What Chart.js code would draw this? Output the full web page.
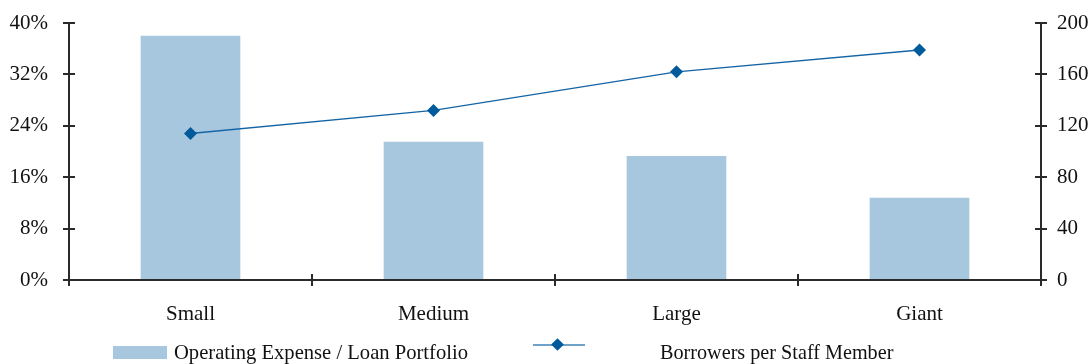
<!DOCTYPE html>
<html>
<head>
<meta charset="utf-8">
<script src="https://cdn.jsdelivr.net/npm/chart.js@4/dist/chart.umd.min.js"></script>
<style>
  html, body { margin: 0; padding: 0; background: #fff; }
  #wrap { position: relative; width: 1091px; height: 364px; font-family: "Liberation Serif", "DejaVu Serif", serif; }
  canvas { position: absolute; left: 0; top: 0; }
  .leg { position: absolute; font-size: 20.6px; color: #111; white-space: nowrap; line-height: 20px; }
  .box { position: absolute; left: 113px; top: 346px; width: 54px; height: 13px; background: #a7c7de; }
  .lline { position: absolute; left: 533px; top: 344px; width: 52px; height: 2px; background: #6ea2c9; }
  .ldia { position: absolute; left: 553px; top: 340px; width: 9px; height: 9px; background: #005a9c; transform: rotate(45deg); }
</style>
</head>
<body>
<div id="wrap">
  <canvas id="c" width="1091" height="364"></canvas>
  <div class="box"></div>
  <div class="leg" style="left:174px; top:342px;">Operating Expense / Loan Portfolio</div>
  <div class="lline"></div>
  <div class="ldia"></div>
  <div class="leg" style="left:660px; top:342px; font-size:20.2px;">Borrowers per Staff Member</div>
</div>
<script>
const categories = ["Small", "Medium", "Large", "Giant"];
const expenseRatio = [38.0, 21.5, 19.3, 12.8];       // % (left axis)
const borrowersPerStaff = [114, 132, 162, 179];     // right axis
const leftTicks = [0, 8, 16, 24, 32, 40];
const rightTicks = [0, 40, 80, 120, 160, 200];

const FONT = { family: "'Liberation Serif', 'DejaVu Serif', serif", size: 21 };
const AXIS = '#2a2a2a';

const crossTicks = {
  id: 'crossTicks',
  afterDraw(chart) {
    const ctx = chart.ctx;
    const a = chart.chartArea;
    ctx.save();
    ctx.strokeStyle = AXIS;
    ctx.lineWidth = 2;
    ctx.beginPath();
    const yl = chart.scales.y, yr = chart.scales.y1;
    yl.ticks.forEach((t, i) => { const p = Math.round(yl.getPixelForTick(i)); ctx.moveTo(a.left, p); ctx.lineTo(a.left + 6, p); });
    yr.ticks.forEach((t, i) => { const p = Math.round(yr.getPixelForTick(i)); ctx.moveTo(a.right, p); ctx.lineTo(a.right - 6, p); });
    const n = categories.length;
    for (let i = 0; i <= n; i++) {
      const p = Math.round(a.left + (a.right - a.left) * i / n);
      ctx.moveTo(p, a.bottom); ctx.lineTo(p, a.bottom - 6);
    }
    ctx.stroke();
    ctx.restore();
  }
};

function fixV(w) {
  return function (s) { s.width = w; s.paddingTop = 0; s.paddingBottom = 0; };
}

new Chart(document.getElementById('c'), {
  data: {
    labels: categories,
    datasets: [
      {
        type: 'line',
        label: 'Borrowers per Staff Member',
        data: borrowersPerStaff,
        yAxisID: 'y1',
        borderColor: '#1464a5',
        backgroundColor: '#005a9c',
        borderWidth: 1.3,
        pointStyle: 'rectRot',
        pointRadius: 6.5,
        pointBorderWidth: 0,
        pointBackgroundColor: '#005a9c',
        tension: 0,
        order: 0
      },
      {
        type: 'bar',
        label: 'Operating Expense / Loan Portfolio',
        data: expenseRatio,
        yAxisID: 'y',
        backgroundColor: '#a7c7de',
        barPercentage: 0.41,
        categoryPercentage: 1.0,
        order: 1
      }
    ]
  },
  options: {
    responsive: false,
    animation: false,
    layout: { padding: { top: 23, bottom: 0, left: 0, right: 0 } },
    plugins: { legend: { display: false }, tooltip: { enabled: false } },
    scales: {
      x: {
        offset: true,
        grid: { display: true, drawOnChartArea: false, offset: true, color: AXIS, lineWidth: 2, tickLength: 6 },
        border: { display: true, color: AXIS, width: 2 },
        ticks: { color: '#111', font: FONT, padding: 16 },
        afterFit(s) { s.height = 84; s.paddingLeft = 0; s.paddingRight = 0; }
      },
      y: {
        position: 'left',
        min: 0, max: 40,
        afterBuildTicks(s) { s.ticks = leftTicks.map(v => ({ value: v })); },
        grid: { drawOnChartArea: false, color: AXIS, lineWidth: 2, tickLength: 6 },
        border: { display: true, color: AXIS, width: 2 },
        ticks: { color: '#111', font: FONT, padding: 15, callback: v => v + '%' },
        afterFit: fixV(69)
      },
      y1: {
        position: 'right',
        min: 0, max: 200,
        afterBuildTicks(s) { s.ticks = rightTicks.map(v => ({ value: v })); },
        grid: { drawOnChartArea: false, color: AXIS, lineWidth: 2, tickLength: 6 },
        border: { display: true, color: AXIS, width: 2 },
        ticks: { color: '#111', font: FONT, padding: 10 },
        afterFit: fixV(50)
      }
    }
  },
  plugins: [crossTicks]
});
</script>
</body>
</html>
